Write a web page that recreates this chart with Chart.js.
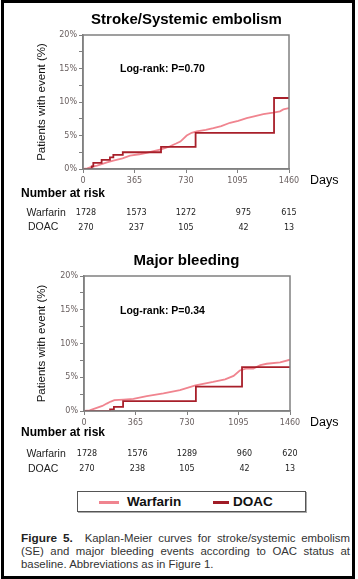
<!DOCTYPE html>
<html>
<head>
<meta charset="utf-8">
<script src="https://cdn.jsdelivr.net/npm/chart.js@4"></script>
<style>
  html, body { margin: 0; padding: 0; background: #fff; }
  body { width: 358px; height: 579px; position: relative; overflow: hidden; font-family: "Liberation Sans", Arial, sans-serif; }
  canvas { position: absolute; left: 0; }
  #frame { position: absolute; left: 1px; top: 0; width: 354px; height: 579px; border: 3px solid #000; box-sizing: border-box; pointer-events: none; }
  #legend { position: absolute; left: 77px; top: 491px; width: 229px; height: 21px; border: 1px solid #555; box-sizing: border-box; box-shadow: 1px 1px 0 #aaa; }
  #legend .ln { position: absolute; top: 9px; height: 2.5px; }
  #legend .tx { position: absolute; top: 1px; font: bold 13.5px "Liberation Sans", Arial, sans-serif; line-height: 18px; color: #111; }
  #caption { position: absolute; left: 21px; top: 532px; width: 329px; font-size: 11.4px; line-height: 13px; color: #333; }
  #caption div { text-align: justify; text-align-last: justify; white-space: nowrap; }
  #caption div.last { text-align-last: left; }
  #caption b { color: #222; font-size: 11.8px; }
</style>
</head>
<body>
<canvas id="stroke" width="358" height="240" style="top:0"></canvas>
<canvas id="bleed" width="358" height="240" style="top:240px"></canvas>

<div id="legend">
  <span class="ln" style="left:21px;width:20px;background:#f0848f"></span>
  <span class="tx" style="left:49px">Warfarin</span>
  <span class="ln" style="left:135px;width:16px;background:#a01c26"></span>
  <span class="tx" style="left:155px">DOAC</span>
</div>

<div id="caption">
  <div><b>Figure 5.</b>&nbsp; Kaplan-Meier curves for stroke/systemic embolism</div>
  <div>(SE) and major bleeding events according to OAC status at</div>
  <div class="last">baseline. Abbreviations as in Figure 1.</div>
</div>
<div id="frame"></div>

<script>
const DAY_TICKS = [0, 365, 730, 1095, 1460];

// Stroke / systemic embolism
const strokeWarfarinDays = [0, 30, 60, 100, 170, 215, 280, 333, 400, 451, 500, 546, 580, 617, 660, 690, 735, 770, 806, 870, 924, 980, 1042, 1100, 1160, 1220, 1278, 1349, 1396, 1420, 1460];
const strokeWarfarinPct  = [0, 0.1, 0.3, 0.5, 1.0, 1.25, 1.6, 2.0, 2.2, 2.4, 2.65, 2.9, 3.1, 3.4, 3.8, 4.1, 5.0, 5.4, 5.6, 5.85, 6.1, 6.4, 6.9, 7.2, 7.6, 7.9, 8.2, 8.4, 8.6, 8.9, 9.1];
const strokeDoacDays = [0, 62, 73, 132, 191, 215, 282, 553, 798, 1354, 1460];
const strokeDoacPct  = [0, 0.4, 0.9, 1.35, 1.75, 2.1, 2.5, 3.3, 5.4, 10.6, 10.6];
const strokeRiskWarfarin = [1728, 1573, 1272, 975, 615];
const strokeRiskDoac = [270, 237, 105, 42, 13];

// Major bleeding
const bleedWarfarinDays = [0, 40, 90, 130, 161, 190, 215, 280, 350, 445, 563, 680, 790, 915, 1000, 1060, 1104, 1152, 1200, 1250, 1295, 1390, 1460];
const bleedWarfarinPct  = [0, 0.1, 0.45, 0.75, 1.1, 1.4, 1.6, 1.7, 1.8, 2.2, 2.6, 3.1, 3.8, 4.3, 4.7, 5.2, 6.0, 6.3, 6.3, 6.8, 7.0, 7.2, 7.6];
const bleedDoacDays = [0, 185, 212, 277, 793, 1120, 1460];
const bleedDoacPct  = [0, 0.25, 0.6, 1.45, 3.6, 6.5, 6.5];
const bleedRiskWarfarin = [1728, 1576, 1289, 960, 620];
const bleedRiskDoac = [270, 238, 105, 42, 13];

const WARFARIN_COLOR = '#f0848f';
const DOAC_COLOR = '#a81f2a';
const AXIS_COLOR = '#808080';
const ARIAL = '"Liberation Sans", Arial, sans-serif';
const VERDANA = '"DejaVu Sans", Verdana, sans-serif';

Chart.defaults.font.family = VERDANA;
Chart.defaults.font.size = 8;

function pts(days, pct) {
  return days.map((d, i) => ({ x: d, y: pct[i] }));
}

// titles, log-rank, "Days", number-at-risk table, plot frame
const panelText = {
  id: 'panelText',
  afterDraw(chart, args, o) {
    const { ctx, chartArea: a, scales: { x } } = chart;
    ctx.save();
    ctx.strokeStyle = AXIS_COLOR;
    ctx.lineWidth = 1.5;
    ctx.strokeRect(a.left, a.top, a.right - a.left, a.bottom - a.top);

    ctx.fillStyle = '#000';
    ctx.textBaseline = 'middle';
    ctx.textAlign = 'center';
    ctx.font = 'bold 15px ' + ARIAL;
    ctx.fillText(o.title, 186.5, o.titleY);

    ctx.textAlign = 'left';
    ctx.font = 'bold 10.5px ' + ARIAL;
    ctx.fillText(o.logrank, 120, o.logrankY);

    ctx.font = '12.5px ' + ARIAL;
    ctx.fillText('Days', 310, o.daysY);

    ctx.font = 'bold 12px ' + ARIAL;
    ctx.fillText('Number at risk', 21, o.riskTitleY);

    ctx.fillStyle = '#222';
    ctx.font = '10.5px ' + ARIAL;
    ctx.fillText('Warfarin', 26.5, o.rowY[0]);
    ctx.fillText('DOAC', 28, o.rowY[1]);

    const nudge = [3, 2, 0, 6, 0];
    ctx.textAlign = 'center';
    ctx.font = '8px ' + VERDANA;
    o.rows.forEach((row, r) => {
      row.forEach((n, i) => {
        ctx.fillText(String(n), x.getPixelForValue(DAY_TICKS[i]) + nudge[i], o.rowY[r]);
      });
    });
    ctx.restore();
  }
};

function makePanel(id, warfarin, doac, area, text) {
  new Chart(document.getElementById(id), {
    type: 'line',
    data: {
      datasets: [{
        label: 'DOAC',
        data: doac,
        borderColor: DOAC_COLOR,
        borderWidth: 1.8,
        stepped: 'before',
        pointRadius: 0,
        order: 0,
      }, {
        label: 'Warfarin',
        data: warfarin,
        borderColor: WARFARIN_COLOR,
        borderWidth: 1.8,
        tension: 0,
        pointRadius: 0,
        order: 1,
      }]
    },
    options: {
      responsive: false,
      animation: false,
      layout: { padding: { left: 0, top: area.top, right: 358 - area.right, bottom: 0 } },
      plugins: {
        legend: { display: false },
        tooltip: { enabled: false },
        panelText: text,
      },
      scales: {
        x: {
          type: 'linear',
          min: 0,
          max: 1460,
          afterFit: s => { s.height = 240 - area.bottom; },
          border: { display: true, color: AXIS_COLOR, width: 1.5 },
          grid: { drawOnChartArea: false, drawTicks: true, tickLength: 4, color: AXIS_COLOR },
          ticks: { stepSize: 365, padding: 3, color: '#6a6060', autoSkip: false, maxRotation: 0, callback: v => String(v) },
        },
        y: {
          min: 0,
          max: 20,
          afterFit: s => { s.width = area.left; },
          border: { display: true, color: AXIS_COLOR, width: 1.5 },
          grid: { drawOnChartArea: false, drawTicks: true, tickLength: 4, color: AXIS_COLOR },
          ticks: { stepSize: 2.5, padding: 2, color: '#6a6060', autoSkip: false, callback: v => (v % 5 === 0 ? v + '%' : '') },
          title: {
            display: true,
            text: 'Patients with event (%)',
            color: '#111',
            font: { family: ARIAL, size: 11.5 },
            padding: { top: 35, bottom: 0 },
          },
        }
      }
    },
    plugins: [panelText]
  });
}

makePanel('stroke',
  pts(strokeWarfarinDays, strokeWarfarinPct),
  pts(strokeDoacDays, strokeDoacPct),
  { left: 83, right: 289, top: 35, bottom: 169 },
  {
    title: 'Stroke/Systemic embolism', titleY: 20,
    logrank: 'Log-rank: P=0.70', logrankY: 69,
    daysY: 181, riskTitleY: 194, rowY: [212.7, 227.5],
    rows: [strokeRiskWarfarin, strokeRiskDoac],
  });

makePanel('bleed',
  pts(bleedWarfarinDays, bleedWarfarinPct),
  pts(bleedDoacDays, bleedDoacPct),
  { left: 84, right: 290, top: 36, bottom: 171 },
  {
    title: 'Major bleeding', titleY: 21,
    logrank: 'Log-rank: P=0.34', logrankY: 70.7,
    daysY: 183, riskTitleY: 193, rowY: [214, 229.3],
    rows: [bleedRiskWarfarin, bleedRiskDoac],
  });
</script>
</body>
</html>
